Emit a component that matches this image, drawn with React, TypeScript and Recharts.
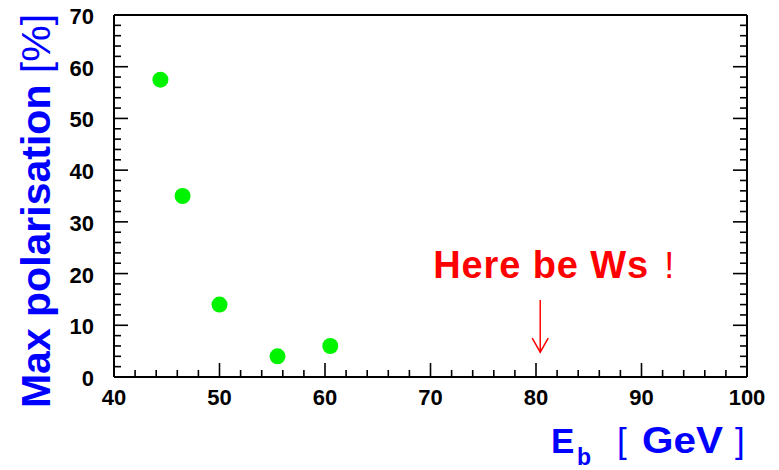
import React from 'react';
import { ScatterChart, Scatter, XAxis, YAxis, ReferenceLine } from 'recharts';

// ---- data ----
const beamEnergies = [44.4, 46.5, 50.0, 55.5, 60.5];
const maxPolarisation = [57.5, 35.0, 14.0, 4.0, 6.0];

const xTicks = [40, 42, 44, 46, 48, 50, 52, 54, 56, 58, 60, 62, 64, 66, 68, 70, 72, 74, 76, 78, 80, 82, 84, 86, 88, 90, 92, 94, 96, 98, 100];
const yTicks = [0, 2, 4, 6, 8, 10, 12, 14, 16, 18, 20, 22, 24, 26, 28, 30, 32, 34, 36, 38, 40, 42, 44, 46, 48, 50, 52, 54, 56, 58, 60, 62, 64, 66, 68, 70];
const xDomain = [40, 100];
const yDomain = [0, 70];

const wArrowEnergy = 80.4;
const wArrowFrom = 14.9;
const wArrowTo = 4.8;
const annotationText = 'Here be Ws';

const points = beamEnergies.map((e, i) => ({ x: e, y: maxPolarisation[i] }));

// ---- styles ----
const FONT = '"Liberation Sans", Arial, Helvetica, sans-serif';
const MAJ = 14;
const MIN = 7;
const TICK_W = 1.6;
const GREEN = '#00f400';
const BLUE = '#0000ff';
const RED = '#ff0000';

const isMajor = (v: number) => Math.abs(v % 10) < 1e-9;

function BottomTick(props: any) {
  const { x, y, payload } = props;
  const v = payload.value;
  const m = isMajor(v);
  return (
    <g>
      <line x1={x} x2={x} y1={y} y2={y - (m ? MAJ : MIN)} stroke="#000" strokeWidth={TICK_W} />
      {m && (
        <text x={x} y={y + 28} textAnchor="middle" fontFamily={FONT} fontWeight="bold" fontSize={22} fill="#000">
          {v}
        </text>
      )}
    </g>
  );
}

function TopTick(props: any) {
  const { x, y, payload } = props;
  const m = isMajor(payload.value);
  return <line x1={x} x2={x} y1={y} y2={y + (m ? MAJ : MIN)} stroke="#000" strokeWidth={TICK_W} />;
}

function LeftTick(props: any) {
  const { x, y, payload } = props;
  const v = payload.value;
  const m = isMajor(v);
  return (
    <g>
      <line x1={x} x2={x + (m ? MAJ : MIN)} y1={y} y2={y} stroke="#000" strokeWidth={TICK_W} />
      {m && (
        <text x={x - 20} y={y + 9} textAnchor="end" fontFamily={FONT} fontWeight="bold" fontSize={22} fill="#000">
          {v}
        </text>
      )}
    </g>
  );
}

function RightTick(props: any) {
  const { x, y, payload } = props;
  const m = isMajor(payload.value);
  return <line x1={x} x2={x - (m ? MAJ : MIN)} y1={y} y2={y} stroke="#000" strokeWidth={TICK_W} />;
}

function Dot(props: any) {
  const { cx, cy } = props;
  return <circle cx={cx} cy={cy} r={8} fill={GREEN} />;
}

function Arrow(props: any) {
  const { x1, y1, x2, y2 } = props;
  return (
    <g>
      <line x1={x1} y1={y1} x2={x2} y2={y2} stroke={RED} strokeWidth={1.5} />
      <polyline points={`${x2 - 8},${y2 - 14} ${x2},${y2} ${x2 + 8},${y2 - 14}`} fill="none" stroke={RED} strokeWidth={1.5} />
      <text x={x1 - 107} y={y1 - 22} fontFamily={FONT} fontWeight="bold" fontSize={38} fill={RED} textLength={215} lengthAdjust="spacing">
        {annotationText}
      </text>
      <text x={x1 + 124} y={y1 - 22} fontFamily={FONT} fontSize={36} fill={RED}>!</text>
    </g>
  );
}

const axisLine = { stroke: '#000', strokeWidth: 2 };

export default function App() {
  return (
    <div style={{ position: 'absolute', left: 0, top: 0, width: 779, height: 470, background: '#fff' }}>
      <ScatterChart width={779} height={470} margin={{ top: 0, right: 0, left: 14, bottom: 0 }}>
        <XAxis
          xAxisId="b"
          type="number"
          dataKey="x"
          domain={xDomain}
          ticks={xTicks}
          interval={0}
          allowDataOverflow
          orientation="bottom"
          height={93}
          axisLine={axisLine}
          tickLine={false}
          tickSize={0}
          tickMargin={0}
          tick={<BottomTick />}
        />
        <XAxis
          xAxisId="t"
          type="number"
          domain={xDomain}
          ticks={xTicks}
          interval={0}
          allowDataOverflow
          orientation="top"
          height={15}
          axisLine={axisLine}
          tickLine={false}
          tickSize={0}
          tickMargin={0}
          tick={<TopTick />}
        />
        <YAxis
          yAxisId="l"
          type="number"
          dataKey="y"
          domain={yDomain}
          ticks={yTicks}
          interval={0}
          allowDataOverflow
          orientation="left"
          width={100}
          axisLine={axisLine}
          tickLine={false}
          tickSize={0}
          tickMargin={0}
          tick={<LeftTick />}
        />
        <YAxis
          yAxisId="r"
          type="number"
          domain={yDomain}
          ticks={yTicks}
          interval={0}
          allowDataOverflow
          orientation="right"
          width={32}
          axisLine={axisLine}
          tickLine={false}
          tickSize={0}
          tickMargin={0}
          tick={<RightTick />}
        />
        <ReferenceLine
          xAxisId="b"
          yAxisId="l"
          segment={[{ x: wArrowEnergy, y: wArrowFrom }, { x: wArrowEnergy, y: wArrowTo }]}
          shape={(p: any) => <Arrow {...p} />}
          ifOverflow="visible"
        />
        <Scatter xAxisId="b" yAxisId="l" data={points} shape={<Dot />} isAnimationActive={false} />
      </ScatterChart>
      <svg width={779} height={470} style={{ position: 'absolute', left: 0, top: 0, pointerEvents: 'none' }}>
        <text
          transform="translate(50,211) rotate(-90)"
          textAnchor="middle"
          fontFamily={FONT}
          fontWeight="bold"
          fontSize={41}
          fill={BLUE}
        >
          Max polarisation <tspan fontWeight="normal">[%]</tspan>
        </text>
        <text x={551} y={453} fontFamily={FONT} fontWeight="bold" fontSize={35} fill={BLUE}>E</text>
        <text x={577} y={465} fontFamily={FONT} fontWeight="bold" fontSize={23} fill={BLUE}>b</text>
        <text x={617} y={453} fontFamily={FONT} fontSize={35} fill={BLUE}>[</text>
        <text x={642} y={453} fontFamily={FONT} fontWeight="bold" fontSize={36} fill={BLUE} textLength={81} lengthAdjust="spacingAndGlyphs">GeV</text>
        <text x={735} y={453} fontFamily={FONT} fontSize={35} fill={BLUE}>]</text>
      </svg>
    </div>
  );
}
